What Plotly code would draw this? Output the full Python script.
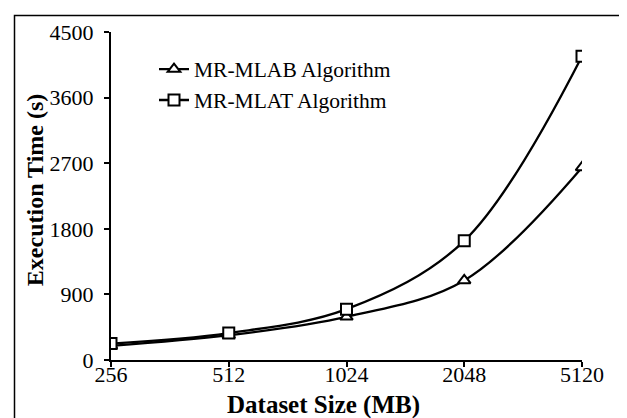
import plotly.graph_objects as go

categories = ["256", "512", "1024", "2048", "5120"]
mlab_values = [195, 340, 592, 1092, 2642]
mlat_values = [225, 370, 697, 1635, 4168]
y_ticks = [0, 900, 1800, 2700, 3600, 4500]

FONT = "Liberation Serif, Times New Roman, serif"

fig = go.Figure()
fig.add_trace(go.Scatter(
    x=categories, y=mlab_values, name="MR-MLAB Algorithm",
    mode="lines+markers",
    line=dict(color="black", width=2.3, shape="spline", smoothing=1.0),
    marker=dict(symbol="triangle-up", size=11, color="white",
                line=dict(color="black", width=2)),
))
fig.add_trace(go.Scatter(
    x=categories, y=mlat_values, name="MR-MLAT Algorithm",
    mode="lines+markers",
    line=dict(color="black", width=2.3, shape="spline", smoothing=1.0),
    marker=dict(symbol="square", size=11, color="white",
                line=dict(color="black", width=2)),
))

# page body has an 8px margin; screen coords = figure coords + 8
OFF = 8
W, H = 627 - OFF, 418 - OFF
PL, PR, PT, PB = 111, 582, 24, 360  # plot area in screen pixels
L, T = PL - OFF, PT - OFF
R, B = W - (PR - OFF), H - (PB - OFF)
pw, ph = PR - PL, PB - PT

def px_x(px):
    return (px - PL) / pw

def px_y(py):
    return (PB - py) / ph

fig.update_layout(
    width=W, height=H,
    margin=dict(l=L, r=R, t=T, b=B, pad=0),
    paper_bgcolor="white", plot_bgcolor="white",
    font=dict(family=FONT, size=22, color="black"),
    showlegend=True,
    legend=dict(x=px_x(154), y=px_y(41), xanchor="left", yanchor="top",
                bgcolor="rgba(0,0,0,0)", font=dict(size=21.5, family=FONT),
                tracegroupgap=0),
    xaxis=dict(type="category", range=[0, 4], showline=True, linecolor="black",
               linewidth=2, ticks="outside", ticklen=5, tickwidth=2,
               tickcolor="black", showgrid=False, zeroline=False,
               tickfont=dict(size=22, family=FONT), ticklabelstandoff=-11),
    yaxis=dict(range=[0, 4500], tickvals=y_ticks, showline=True,
               linecolor="black", linewidth=2, ticks="outside", ticklen=5,
               tickwidth=2, tickcolor="black", showgrid=False, zeroline=False,
               tickfont=dict(size=22, family=FONT), ticklabelstandoff=6),
    annotations=[
        dict(text="<b>Dataset Size (MB)</b>", x=px_x(323), y=px_y(406),
             xref="paper", yref="paper", showarrow=False,
             font=dict(size=25, family=FONT), xanchor="center", yanchor="middle"),
        dict(text="<b>Execution Time (s)</b>", x=px_x(35), y=px_y(186),
             xref="paper", yref="paper", showarrow=False, textangle=-90,
             font=dict(size=24, family=FONT), xanchor="center", yanchor="middle"),
    ],
    shapes=[
        dict(type="rect", xref="paper", yref="paper",
             x0=px_x(14.5), x1=px_x(620.5), y0=px_y(430), y1=px_y(7),
             line=dict(color="black", width=1.5), fillcolor="rgba(0,0,0,0)",
             layer="above"),
    ],
)

fig.write_html("out.html")
